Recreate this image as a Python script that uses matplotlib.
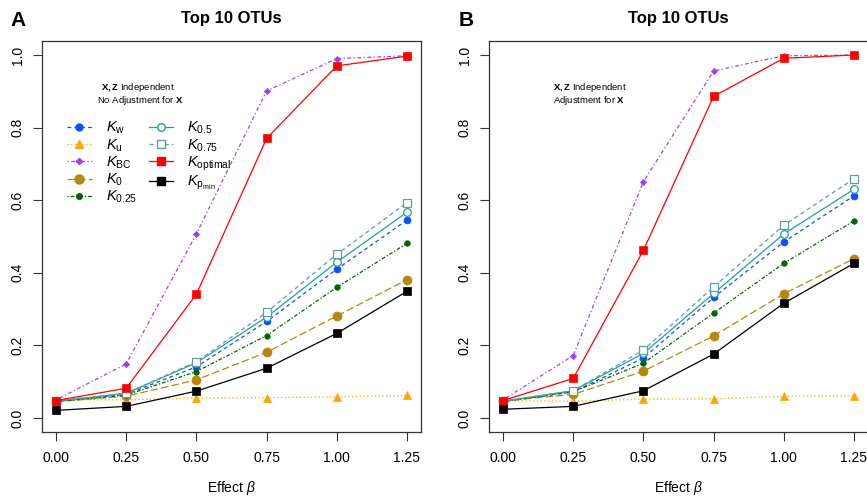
import matplotlib
matplotlib.use("Agg")
import matplotlib.pyplot as plt
from matplotlib.lines import Line2D

plt.rcParams['font.family'] = ['Liberation Sans', 'DejaVu Sans']
plt.rcParams['mathtext.fontset'] = 'custom'
plt.rcParams['mathtext.rm'] = 'Liberation Sans'
plt.rcParams['mathtext.it'] = 'Liberation Sans:italic'
plt.rcParams['mathtext.bf'] = 'Liberation Sans:bold'

# effect sizes
beta = [0.00, 0.25, 0.50, 0.75, 1.00, 1.25]

# panel A: no adjustment for X
a_kw = [0.046, 0.065, 0.141, 0.266, 0.410, 0.545]
a_ku = [0.050, 0.050, 0.055, 0.056, 0.058, 0.062]
a_kbc = [0.050, 0.149, 0.507, 0.901, 0.990, 0.998]
a_k0 = [0.045, 0.060, 0.105, 0.181, 0.281, 0.381]
a_k025 = [0.045, 0.063, 0.128, 0.227, 0.360, 0.481]
a_k05 = [0.046, 0.068, 0.152, 0.278, 0.429, 0.567]
a_k075 = [0.047, 0.068, 0.155, 0.291, 0.451, 0.593]
a_kopt = [0.048, 0.082, 0.341, 0.770, 0.970, 0.997]
a_kpmin = [0.021, 0.032, 0.074, 0.137, 0.233, 0.349]

# panel B: adjustment for X
b_kw = [0.046, 0.072, 0.165, 0.332, 0.485, 0.612]
b_ku = [0.048, 0.046, 0.052, 0.053, 0.060, 0.061]
b_kbc = [0.050, 0.172, 0.651, 0.956, 0.998, 1.000]
b_k0 = [0.047, 0.065, 0.129, 0.226, 0.342, 0.439]
b_k025 = [0.045, 0.072, 0.151, 0.289, 0.426, 0.543]
b_k05 = [0.046, 0.075, 0.178, 0.343, 0.507, 0.630]
b_k075 = [0.047, 0.075, 0.187, 0.361, 0.531, 0.659]
b_kopt = [0.048, 0.109, 0.462, 0.886, 0.991, 1.000]
b_kpmin = [0.024, 0.032, 0.075, 0.176, 0.316, 0.426]

labels = [r'$K_\mathrm{w}$', r'$K_\mathrm{u}$', r'$K_\mathrm{BC}$', r'$K_\mathrm{0}$',
          r'$K_\mathrm{0.25}$', r'$K_\mathrm{0.5}$', r'$K_\mathrm{0.75}$',
          r'$K_\mathrm{optimal}$', r'$K_{\mathrm{p}_\mathrm{min}}$']

# style per method: color, dashes, marker, markersize, filled
styles = [
    ('#0A50FF', (3, 2.5), 'o', 5.0, True),
    ('#FFA500', (1, 2), '^', 5.5, True),
    ('#A040F0', (1, 2, 3, 2), 'D', 3.2, True),
    ('#B8860B', (6, 2.5), 'o', 6.5, True),
    ('#006400', (1, 1.5, 3, 1.5), 'o', 4.0, True),
    ('#20A0A0', None, 'o', 5.5, False),
    ('#5F9EA0', (3.5, 2.5), 's', 5.5, False),
    ('#FF0000', None, 's', 5.5, True),
    ('#000000', None, 's', 5.5, True),
]


def draw_panel(ax, series):
    for vals, (col, dash, mk, ms, filled) in zip(series, styles):
        line, = ax.plot(beta, vals, color=col, lw=0.9, marker=mk, markersize=ms,
                        markerfacecolor=col if filled else 'white',
                        markeredgecolor=col, markeredgewidth=0.9 if not filled else 0.5)
        if dash:
            line.set_dashes(dash)
    ax.set_xlim(-0.05, 1.30)
    ax.set_ylim(-0.0386, 1.0386)
    ax.set_xticks(beta)
    ax.set_xticklabels(['0.00', '0.25', '0.50', '0.75', '1.00', '1.25'])
    ax.set_yticks([0.0, 0.2, 0.4, 0.6, 0.8, 1.0])
    ax.set_yticklabels(['0.0', '0.2', '0.4', '0.6', '0.8', '1.0'], rotation=90, va='center')
    ax.tick_params(direction='out', length=6.5, width=0.8, labelsize=10, color='#333333')
    ax.tick_params(axis='x', pad=7)
    ax.tick_params(axis='y', pad=6)
    for s in ax.spines.values():
        s.set_linewidth(0.9)
        s.set_color('#333333')


fig = plt.figure(figsize=(8.67, 4.98), dpi=100)
W, H = 867.0, 498.0
axA = fig.add_axes([42 / W, (H - 432) / H, 379 / W, 391 / H])
axB = fig.add_axes([489 / W, (H - 432) / H, 379 / W, 391 / H])

draw_panel(axA, [a_kw, a_ku, a_kbc, a_k0, a_k025, a_k05, a_k075, a_kopt, a_kpmin])
draw_panel(axB, [b_kw, b_ku, b_kbc, b_k0, b_k025, b_k05, b_k075, b_kopt, b_kpmin])

# titles, panel letters, axis labels
for cx, letter_x, letter in [(231.5, 18, 'A'), (678.5, 466, 'B')]:
    fig.text(cx / W, 1 - 19 / H, 'Top 10 OTUs', ha='center', va='center',
             fontsize=12, fontweight='bold')
    fig.text(letter_x / W, 1 - 21 / H, letter, ha='center', va='center',
             fontsize=15, fontweight='bold')
    fig.text(cx / W, 1 - 488 / H, r'Effect $\beta$', ha='center', va='center', fontsize=10)

# condition notes
fig.text(138 / W, 1 - 87.5 / H, r'$\mathbf{X,Z}$ Independent', ha='center', va='center', fontsize=6.8)
fig.text(140 / W, 1 - 100.5 / H, r'No Adjustment for $\mathbf{X}$', ha='center', va='center', fontsize=6.8)
fig.text(553 / W, 1 - 87.5 / H, r'$\mathbf{X,Z}$ Independent', ha='left', va='center', fontsize=6.8)
fig.text(553 / W, 1 - 100.5 / H, r'Adjustment for $\mathbf{X}$', ha='left', va='center', fontsize=6.8)

# legend
handles = []
for col, dash, mk, ms, filled in styles:
    h = Line2D([0], [0], color=col, lw=0.9, marker=mk, markersize=ms,
               markerfacecolor=col if filled else 'white', markeredgecolor=col)
    if dash:
        h.set_dashes(dash)
    handles.append(h)
axA.legend(handles, labels, ncol=2, loc='upper left',
           bbox_to_anchor=(67 / W, 1 - 120 / H), bbox_transform=fig.transFigure,
           frameon=False, fontsize=10.5, handlelength=1.7, handletextpad=0.95,
           columnspacing=0.8, labelspacing=0.06, borderpad=0, borderaxespad=0)

fig.savefig('out.png', dpi=100)
